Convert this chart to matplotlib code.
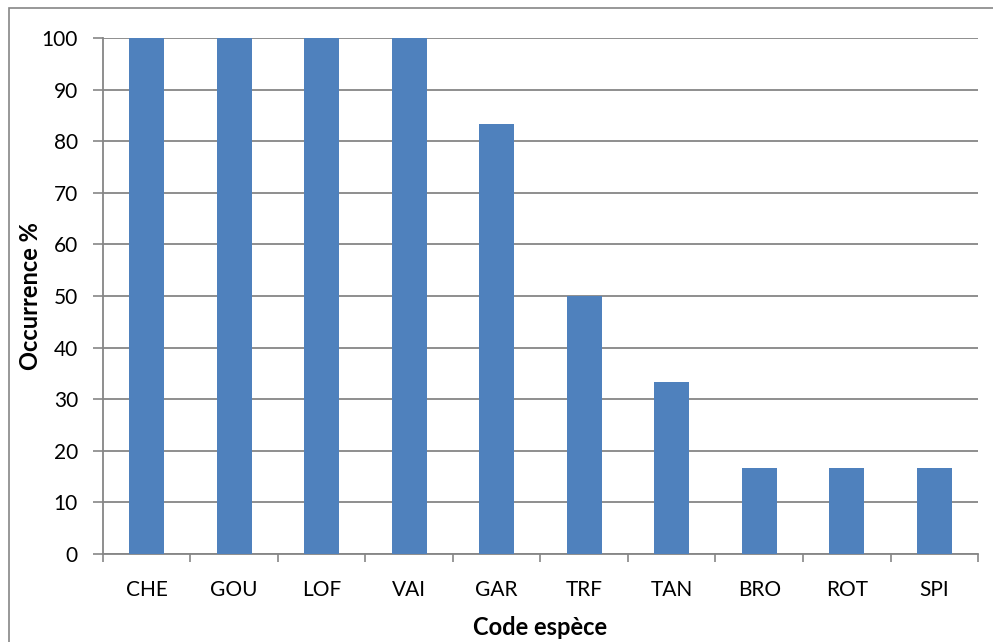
import numpy as np
import matplotlib.pyplot as plt
from matplotlib.patches import Rectangle

plt.rcParams['font.family'] = ['Lato', 'DejaVu Sans']

species = ['CHE', 'GOU', 'LOF', 'VAI', 'GAR', 'TRF', 'TAN', 'BRO', 'ROT', 'SPI']
occurrence = [100, 100, 100, 100, 83.3, 50, 33.3, 16.7, 16.7, 16.7]
y_ticks = np.arange(0, 101, 10)

grey = '#868686'
fig = plt.figure(figsize=(9.93, 6.42), dpi=100)
ax = fig.add_axes([0.1037, 0.1371, 0.8812, 0.8037])

# outer chart frame (right/bottom fall outside the picture)
fig.patches.append(Rectangle((9 / 993, -0.05), 1.1, 1 - 8 / 642 + 0.05,
                             transform=fig.transFigure, fill=False,
                             edgecolor=grey, linewidth=1.2))

x = np.arange(len(species))
ax.bar(x, occurrence, width=0.4, color='#4F81BD', zorder=3)

ax.set_xlim(-0.5, len(species) - 0.5)
ax.set_ylim(0, 100)
ax.set_yticks(y_ticks)
ax.yaxis.grid(True, color=grey, linewidth=1.3, zorder=0)

ax.set_xticks(x)
ax.set_xticklabels(species)
ax.set_xticks(np.arange(-0.5, len(species)), minor=True)
ax.tick_params(axis='x', which='major', length=0, pad=19, labelsize=15)
ax.tick_params(axis='x', which='minor', length=6, width=1.2, color=grey)
ax.tick_params(axis='y', length=7, width=1.2, color=grey, pad=11, labelsize=15)

for s in ['top', 'right']:
    ax.spines[s].set_visible(False)
for s in ['left', 'bottom']:
    ax.spines[s].set_color(grey)
    ax.spines[s].set_linewidth(1.3)

ax.set_xlabel('Code espèce', fontsize=17, fontweight='bold', labelpad=11)
ax.set_ylabel('Occurrence %', fontsize=17, fontweight='bold', labelpad=0)

fig.savefig('out.png', dpi=100)
